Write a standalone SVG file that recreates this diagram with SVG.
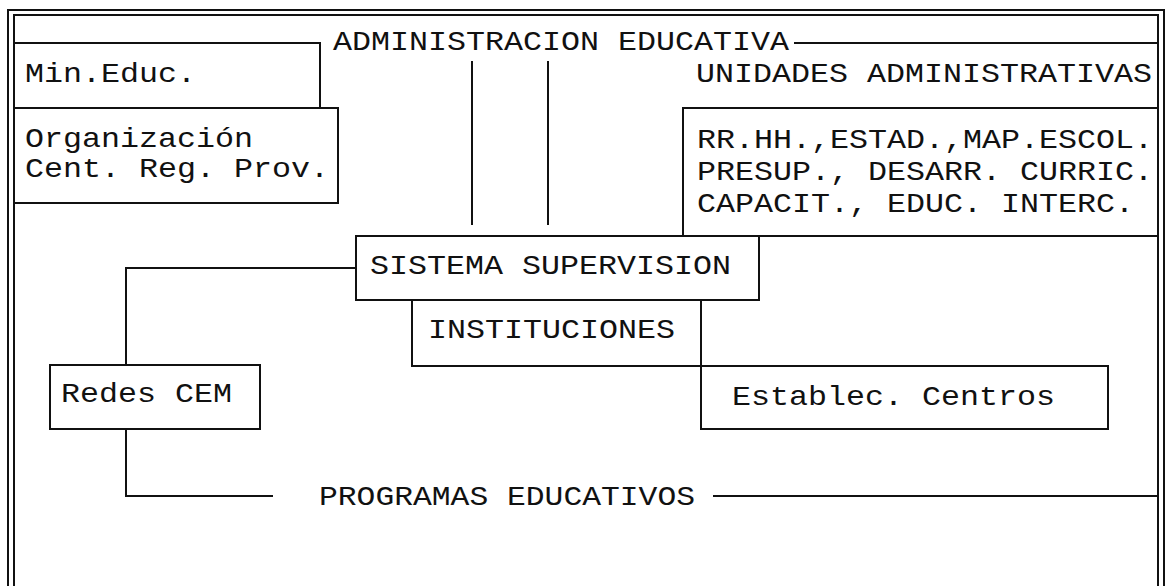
<svg xmlns="http://www.w3.org/2000/svg" width="1171" height="586" viewBox="0 0 1171 586">
  <style>
    .ln { fill: none; stroke: #111; stroke-width: 2; stroke-linecap: square; }
    .tx { font-family: "Liberation Mono", "DejaVu Sans Mono", monospace; font-size: 28px; fill: #111; }
  </style>
  <rect width="1171" height="586" fill="#fff"/>

  <!-- double outer border, open at the bottom -->
  <g id="frame">
    <path class="ln" d="M8,586 V10 H1164 V586"/>
    <path class="ln" d="M14,586 V15 H1158 V586"/>
  </g>

  <!-- monospaced text on a 19px character grid -->
  <g id="administracion">
    <text class="tx" x="333" y="50" textLength="456" lengthAdjust="spacingAndGlyphs">ADMINISTRACION EDUCATIVA</text>
    <path class="ln" d="M795,43 H1158"/>
  </g>

  <g id="min-educ">
    <path class="ln" d="M14,43 H320 V108"/>
    <text class="tx" x="25" y="82" textLength="171" lengthAdjust="spacingAndGlyphs">Min.Educ.</text>
  </g>

  <g id="organizacion">
    <path class="ln" d="M14,108 H338 V203 H14"/>
    <text class="tx" x="25" y="147" textLength="228" lengthAdjust="spacingAndGlyphs">Organización</text>
    <text class="tx" x="25" y="177" textLength="304" lengthAdjust="spacingAndGlyphs">Cent. Reg. Prov.</text>
  </g>

  <g id="unidades">
    <text class="tx" x="696" y="82" textLength="456" lengthAdjust="spacingAndGlyphs">UNIDADES ADMINISTRATIVAS</text>
  </g>

  <g id="unidades-lista">
    <path class="ln" d="M1158,108 H683 V236 H1158"/>
    <text class="tx" x="697" y="148" textLength="456" lengthAdjust="spacingAndGlyphs">RR.HH.,ESTAD.,MAP.ESCOL.</text>
    <text class="tx" x="697" y="180" textLength="456" lengthAdjust="spacingAndGlyphs">PRESUP., DESARR. CURRIC.</text>
    <text class="tx" x="697" y="212" textLength="437" lengthAdjust="spacingAndGlyphs">CAPACIT., EDUC. INTERC.</text>
  </g>

  <g id="sistema-supervision">
    <path class="ln" d="M356,236 H759 V300 H356 Z"/>
    <text class="tx" x="370" y="274" textLength="361" lengthAdjust="spacingAndGlyphs">SISTEMA SUPERVISION</text>
  </g>

  <g id="instituciones">
    <path class="ln" d="M412,300 V366 H701 V300"/>
    <text class="tx" x="428" y="338" textLength="247" lengthAdjust="spacingAndGlyphs">INSTITUCIONES</text>
  </g>

  <g id="establec-centros">
    <path class="ln" d="M701,366 H1108 V429 H701 Z"/>
    <text class="tx" x="732" y="405" textLength="323" lengthAdjust="spacingAndGlyphs">Establec. Centros</text>
  </g>

  <g id="redes-cem">
    <path class="ln" d="M50,365 H260 V429 H50 Z"/>
    <text class="tx" x="61" y="402" textLength="171" lengthAdjust="spacingAndGlyphs">Redes CEM</text>
  </g>

  <g id="programas">
    <text class="tx" x="319" y="505" textLength="376" lengthAdjust="spacingAndGlyphs">PROGRAMAS EDUCATIVOS</text>
  </g>

  <g id="connectors">
    <path class="ln" d="M472,62 V224"/>
    <path class="ln" d="M548,62 V224"/>
    <path class="ln" d="M356,268 H126 V365"/>
    <path class="ln" d="M126,429 V496 H272"/>
    <path class="ln" d="M714,496 H1158"/>
  </g>
</svg>
